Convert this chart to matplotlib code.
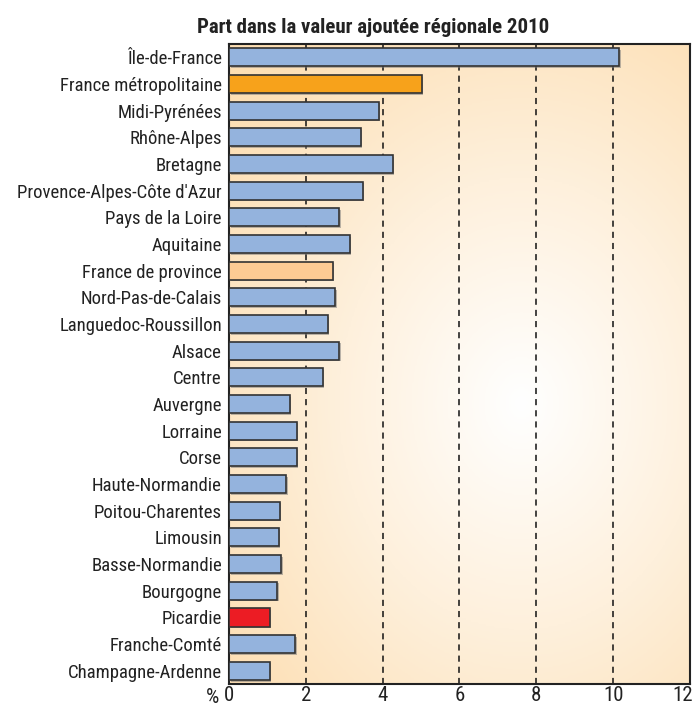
import numpy as np
import matplotlib
matplotlib.use('Agg')
import matplotlib.pyplot as plt
import matplotlib.patheffects as pe
import matplotlib.transforms as mtransforms
from matplotlib import font_manager
from matplotlib.colors import LinearSegmentedColormap

regions = ["Île-de-France", "France métropolitaine", "Midi-Pyrénées",
           "Rhône-Alpes", "Bretagne", "Provence-Alpes-Côte d'Azur",
           "Pays de la Loire", "Aquitaine", "France de province",
           "Nord-Pas-de-Calais", "Languedoc-Roussillon", "Alsace", "Centre",
           "Auvergne", "Lorraine", "Corse", "Haute-Normandie",
           "Poitou-Charentes", "Limousin", "Basse-Normandie", "Bourgogne",
           "Picardie", "Franche-Comté", "Champagne-Ardenne"]
values = [10.15, 5.02, 3.90, 3.43, 4.26, 3.48, 2.87, 3.14, 2.70, 2.77,
          2.57, 2.87, 2.44, 1.58, 1.76, 1.76, 1.49, 1.32, 1.29, 1.36,
          1.26, 1.06, 1.72, 1.06]
highlight = {"France métropolitaine": '#f7a21b',
             "France de province": '#fdcb94',
             "Picardie": '#ec1c24'}
xticks = [0, 2, 4, 6, 8, 10, 12]

# narrowest font available
installed = {f.name for f in font_manager.fontManager.ttflist}
narrow = [n for n in ['Liberation Sans Narrow', 'Roboto Condensed',
                      'Open Sans Condensed', 'Noto Sans Condensed',
                      'DejaVu Sans Condensed', 'Liberation Sans']
          if n in installed]
font = narrow[0] if narrow else 'DejaVu Sans'
plt.rcParams['font.family'] = [font, 'DejaVu Sans']
plt.rcParams['font.stretch'] = 'condensed'

fig = plt.figure(figsize=(6.98, 7.06), dpi=100)
ax = fig.add_axes([0.328, 0.031, 0.6605, 0.9067])

# radial background
xx, yy = np.meshgrid(np.linspace(0, 12, 300), np.linspace(-0.5, 23.5, 300))
r = np.sqrt(((xx - 7.6) / 9.5) ** 2 + ((yy - 13.0) / 17.0) ** 2)
cmap = LinearSegmentedColormap.from_list('bg', ['#ffffff', '#fef0dc', '#fddfb4'])
ax.imshow(np.clip(r, 0, 1), extent=[0, 12, 23.5, -0.5], cmap=cmap,
          aspect='auto', zorder=0, vmin=0, vmax=1)

ypos = np.arange(len(regions))
colors = [highlight.get(r_, '#94b3dd') for r_ in regions]
bars = ax.barh(ypos, values, height=0.68, color=colors, edgecolor='#333333',
               linewidth=1.2, zorder=3)
for b in bars:
    b.set_path_effects([pe.SimplePatchShadow(offset=(1.2, -1.2),
                                             shadow_rgbFace='#777777',
                                             alpha=0.5),
                        pe.Normal()])

for x in xticks[1:-1]:
    ax.axvline(x, color='#111111', linestyle=(0, (4, 3.3)), linewidth=1.1,
               zorder=2)

ax.set_xlim(0, 12)
ax.set_ylim(23.5, -0.5)
ax.set_yticks(ypos)
ax.set_yticklabels(regions, fontsize=13.5, color='#222222')
ax.set_xticks(xticks)
ax.set_xticklabels([str(x) for x in xticks], fontsize=15, color='#222222')
ax.tick_params(length=0, pad=5)
ax.tick_params(axis='x', pad=1)
for s in ax.spines.values():
    s.set_linewidth(1.5)
    s.set_color('#222222')

# keep the last tick label inside the figure
last = ax.get_xticklabels()[-1]
last.set_transform(last.get_transform() +
                   mtransforms.ScaledTranslation(-5 / 72, 0,
                                                 fig.dpi_scale_trans))

fig.text(0.314, 0.0115, '%', fontsize=15, ha='right', va='center',
         color='#222222')
fig.text(0.534, 0.961, 'Part dans la valeur ajoutée régionale 2010',
         fontsize=15, fontweight='bold', ha='center', va='center',
         color='#222222')

fig.savefig('out.png', dpi=100)
